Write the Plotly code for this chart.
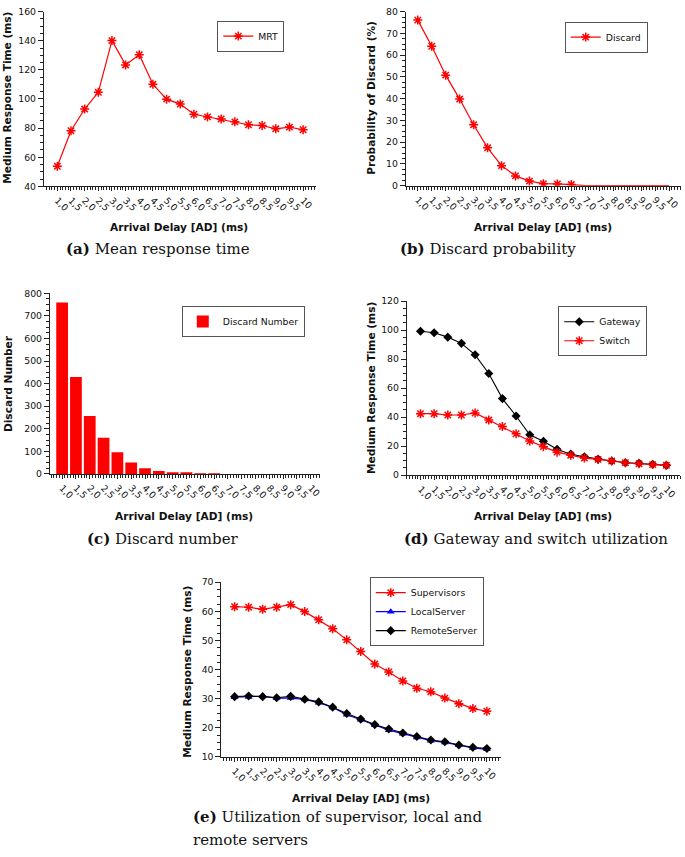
import plotly.graph_objects as go

W, H = 685, 857

ad = [1.0, 1.5, 2.0, 2.5, 3.0, 3.5, 4.0, 4.5, 5.0, 5.5, 6.0, 6.5, 7.0, 7.5, 8.0, 8.5, 9.0, 9.5, 10.0]
ad_labels = ["1,0", "1,5", "2,0", "2,5", "3,0", "3,5", "4,0", "4,5", "5,0", "5,5",
             "6,0", "6,5", "7,0", "7,5", "8,0", "8,5", "9,0", "9,5", "10"]

mrt = [53.8, 78.2, 93.1, 104.6, 140.1, 123.4, 130.4, 110.1, 99.9, 96.5,
       89.5, 87.7, 86.3, 84.3, 82.3, 81.8, 79.5, 80.7, 78.9]

discard_prob = [76.1, 64.1, 50.8, 39.8, 28.0, 17.4, 9.2, 4.5, 2.1, 0.9,
                0.8, 0.5, 0, 0, 0, 0, 0, 0, 0]

discard_num = [759, 429, 257, 160, 96, 51, 25, 13, 7, 4,
               2, 1, 0, 0, 0, 0, 0, 0, 0]

gateway = [99.3, 98.2, 95.2, 90.9, 83.0, 70.1, 52.8, 40.8, 27.9, 23.4,
           17.9, 14.5, 12.7, 11.1, 9.8, 8.6, 8.2, 7.5, 6.8]
switch = [42.4, 42.4, 41.5, 41.5, 42.9, 38.1, 33.6, 28.6, 23.6, 19.7,
          15.9, 13.8, 11.8, 10.9, 9.8, 8.6, 7.9, 7.3, 6.8]

supervisors = [61.6, 61.4, 60.7, 61.4, 62.3, 59.9, 57.1, 54.0, 50.2, 46.2,
               41.9, 39.2, 36.1, 33.6, 32.4, 30.2, 28.3, 26.6, 25.7]
local_server = [30.5, 30.6, 30.9, 30.2, 30.2, 29.7, 28.6, 27.0, 24.5, 22.8,
                20.9, 19.2, 18.0, 16.7, 15.6, 15.0, 14.0, 13.1, 12.6]
remote_server = [30.7, 30.9, 30.7, 30.3, 30.8, 29.8, 28.9, 27.1, 24.9, 23.0,
                 21.1, 19.6, 18.2, 17.0, 15.8, 15.2, 14.1, 13.3, 12.9]

x_title = "Arrival Delay [AD] (ms)"
captions = ["<b>(a)</b> Mean response time", "<b>(b)</b> Discard probability",
            "<b>(c)</b> Discard number", "<b>(d)</b> Gateway and switch utilization"]
caption_e = ["<b>(e)</b> Utilization of supervisor, local and", "remote servers"]

RED, BLUE, BLACK = "#ff0000", "#0000ff", "#000000"
AXC = "#222222"

# panel geometry in pixels: axis left, axis right, px at x=1, px at x=10, top px, bottom px, y range, y step
panels = [
    dict(l=44, r=317, p1=57.5, p10=304, t=5.7, b=182.7, yr=[40, 160], dy=20),
    dict(l=407, r=683, p1=419, p10=671, t=5.7, b=182, yr=[0, 80], dy=10),
    dict(l=50, r=321, p1=62.3, p10=311.7, t=291, b=474, yr=[0, 800], dy=100),
    dict(l=408, r=682, p1=421.7, p10=668.3, t=299, b=475.3, yr=[0, 120], dy=20),
    dict(l=222, r=502, p1=235.3, p10=488.3, t=583.7, b=760.7, yr=[10, 70], dy=10),
]

fig = go.Figure()

def star(name, xs, y, xa, ya, leg, color=RED, show=True, mode="lines+markers"):
    return go.Scatter(x=xs, y=y, name=name, xaxis=xa, yaxis=ya, legend=leg, showlegend=show,
                      mode=mode, line=dict(color=color, width=1.2),
                      marker=dict(symbol="asterisk-open", size=7.5,
                                  color=color, line=dict(color=color, width=1.5)))

fig.add_trace(star("MRT", ad, mrt, "x", "y", "legend"))
# discard probability: markers while non-zero, plain line along zero afterwards
nz = [i for i, v in enumerate(discard_prob) if v > 0]
last = nz[-1]
fig.add_trace(star("Discard", ad[last:], discard_prob[last:], "x2", "y2", "legend2",
                   show=False, mode="lines"))
fig.add_trace(star("Discard", ad[:last + 1], discard_prob[:last + 1], "x2", "y2", "legend2"))
fig.add_trace(go.Bar(x=ad, y=discard_num, name="Discard Number", xaxis="x3", yaxis="y3",
                     legend="legend3", marker=dict(color=RED, line=dict(width=0))))
fig.add_trace(go.Scatter(x=ad, y=gateway, name="Gateway", xaxis="x4", yaxis="y4", legend="legend4",
                         mode="lines+markers", line=dict(color=BLACK, width=1.1),
                         marker=dict(symbol="diamond", size=7, color=BLACK)))
fig.add_trace(star("Switch", ad, switch, "x4", "y4", "legend4"))
fig.add_trace(star("Supervisors", ad, supervisors, "x5", "y5", "legend5"))
fig.add_trace(go.Scatter(x=ad, y=local_server, name="LocalServer", xaxis="x5", yaxis="y5", legend="legend5",
                         mode="lines+markers", line=dict(color=BLUE, width=1.1),
                         marker=dict(symbol="triangle-up", size=7, color=BLUE)))
fig.add_trace(go.Scatter(x=ad, y=remote_server, name="RemoteServer", xaxis="x5", yaxis="y5", legend="legend5",
                         mode="lines+markers", line=dict(color=BLACK, width=1.1),
                         marker=dict(symbol="diamond", size=7, color=BLACK)))

tickfont = dict(family="DejaVu Sans", size=9.3, color="#111")
layout = dict(width=W, height=H, margin=dict(l=0, r=0, t=0, b=0),
              paper_bgcolor="white", plot_bgcolor="white", showlegend=True,
              bargap=0.15, font=dict(family="DejaVu Sans"))

for i, p in enumerate(panels):
    unit = (p["p10"] - p["p1"]) / 9.0
    xmin = 1.0 - (p["p1"] - p["l"]) / unit
    xmax = 10.0 + (p["r"] - p["p10"]) / unit
    sfx = "" if i == 0 else str(i + 1)
    layout["xaxis" + sfx] = dict(
        domain=[p["l"] / W, p["r"] / W], range=[xmin, xmax], anchor="y" + sfx,
        tickmode="array", tickvals=ad, ticktext=ad_labels, tickangle=45,
        ticks="outside", ticklen=4, tickcolor=AXC, tickfont=tickfont, ticklabeloverflow="allow",
        showline=True, linecolor=AXC, linewidth=1, showgrid=False, zeroline=False,
        minor=dict(ticks="outside", dtick=0.1, tick0=0, ticklen=3, tickcolor=AXC, showgrid=False))
    layout["yaxis" + sfx] = dict(
        domain=[1 - p["b"] / H, 1 - p["t"] / H], range=p["yr"], anchor="x" + sfx,
        tickmode="linear", tick0=p["yr"][0], dtick=p["dy"],
        ticks="outside", ticklen=5, tickcolor=AXC, tickfont=tickfont,
        showline=True, linecolor=AXC, linewidth=1, showgrid=False, zeroline=False,
        minor=dict(ticks="outside", dtick=p["dy"] / 4, ticklen=3, tickcolor=AXC, showgrid=False))

# legend centres (px) taken from the reference boxes
leg_pos = [(251.5, 30.5), (608, 31.5), (244, 319.5), (604.5, 329.5), (428, 613.5)]
for i, (lx, ly) in enumerate(leg_pos):
    key = "legend" if i == 0 else "legend" + str(i + 1)
    layout[key] = dict(x=lx / W, y=1 - ly / H, xanchor="center", yanchor="middle",
                       bordercolor="#555", borderwidth=1, bgcolor="white",
                       font=dict(family="DejaVu Sans", size=9.3, color="#111"),
                       itemwidth=30, tracegroupgap=0)

ann = []
titlefont = dict(family="DejaVu Sans", size=10.6, color="#111")
xt_pos = [(180, 224), (545, 224), (185, 517), (545, 517), (362, 802)]
for (x, y) in xt_pos:
    ann.append(dict(x=x / W, y=1 - y / H, xref="paper", yref="paper", text="<b>" + x_title + "</b>",
                    showarrow=False, xanchor="center", yanchor="middle", font=titlefont))
yt = [("Medium Response Time (ms)", 7, 93), ("Probability of Discard (%)", 372, 93),
      ("Discard Number", 8, 382), ("Medium Response Time (ms)", 372, 387),
      ("Medium Response Time (ms)", 188, 674)]
for (t, x, y) in yt:
    ann.append(dict(x=x / W, y=1 - y / H, xref="paper", yref="paper", text="<b>" + t + "</b>",
                    showarrow=False, xanchor="center", yanchor="middle", textangle=-90, font=titlefont))

capfont = dict(family="DejaVu Serif", size=15, color="#111")
cap_pos = [(158, 246), (489, 246), (163, 540), (538, 540)]
for (c, (x, y)) in zip(captions, cap_pos):
    ann.append(dict(x=x / W, y=1 - y / H, xref="paper", yref="paper", text=c,
                    showarrow=False, xanchor="center", yanchor="middle", font=capfont))
for j, c in enumerate(caption_e):
    ann.append(dict(x=192 / W, y=1 - (822 + 23 * j) / H, xref="paper", yref="paper", text=c,
                    showarrow=False, xanchor="left", yanchor="middle", font=capfont))
layout["annotations"] = ann

fig.update_layout(**layout)
fig.write_html("out.html", config={"displayModeBar": False},
               post_script="document.body.style.margin='0';document.body.style.overflow='hidden';")
